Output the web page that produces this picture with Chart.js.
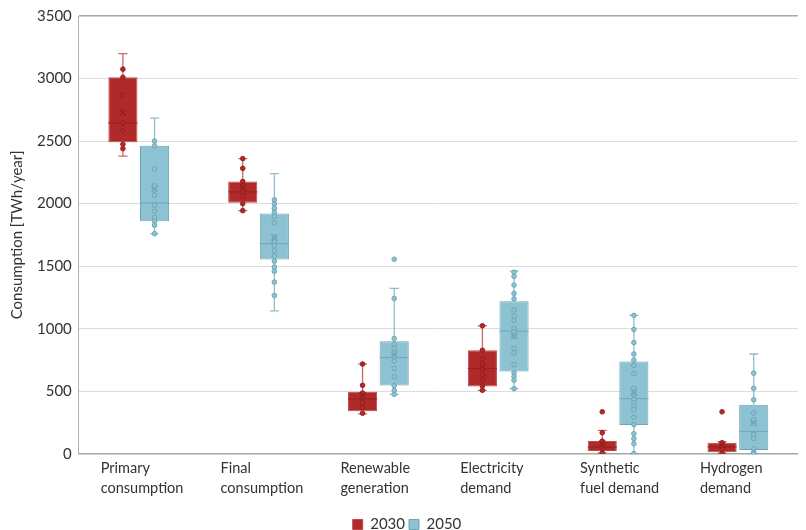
<!DOCTYPE html>
<html>
<head>
<meta charset="utf-8">
<script src="https://cdn.jsdelivr.net/npm/chart.js@4.4.1/dist/chart.umd.min.js"></script>
<style>
  html, body { margin: 0; padding: 0; background: #fff; }
  #wrap { width: 806px; height: 530px; }
</style>
</head>
<body>
<div id="wrap"><canvas id="boxChart"></canvas></div>
<script>
// categories and box statistics (TWh/year)
const categories = [
  ['Primary', 'consumption'],
  ['Final', 'consumption'],
  ['Renewable', 'generation'],
  ['Electricity', 'demand'],
  ['Synthetic', 'fuel demand'],
  ['Hydrogen', 'demand']
];

const min2030    = [2380, 1944, 320, 508, 8, 5];
const q1_2030    = [2490, 2008, 341, 538, 22, 13];
const median2030 = [2645, 2094, 438, 683, 54, 56];
const q3_2030    = [3010, 2177, 497, 828, 102, 89];
const max2030    = [3200, 2360, 718, 1024, 188, 97];
const mean2030   = [2730, 2130, 465, 695, 80, 70];

const min2050    = [1760, 1143, 476, 521, 2, 2];
const q1_2050    = [1860, 1554, 546, 659, 231, 30];
const median2050 = [2006, 1680, 769, 981, 441, 180];
const q3_2050    = [2462, 1922, 901, 1220, 739, 392];
const max2050    = [2683, 2240, 1322, 1460, 1107, 798];
const mean2050   = [2120, 1730, 795, 940, 490, 250];

const points2030 = [
  [3075, 3010, 2865, 2645, 2585, 2475, 2440],
  [2360, 2282, 2177, 2140, 2094, 2059, 2000, 1944],
  [718, 548, 486, 460, 411, 373, 325],
  [1024, 828, 758, 718, 683, 637, 597, 543, 508],
  [336, 169, 102, 73, 46, 8],
  [336, 89, 62, 35, 5]
];
const points2050 = [
  [2500, 2462, 2277, 2143, 2110, 2067, 1986, 1938, 1890, 1860, 1828, 1760],
  [2030, 1997, 1962, 1930, 1898, 1847, 1734, 1694, 1664, 1623, 1581, 1540, 1494, 1460, 1373, 1266],
  [1556, 1242, 922, 877, 841, 806, 780, 742, 683, 616, 546, 508, 476],
  [1452, 1419, 1349, 1282, 1239, 1150, 1102, 1067, 1002, 973, 943, 841, 806, 712, 648, 618, 589, 521],
  [1107, 995, 890, 798, 750, 707, 643, 524, 478, 435, 406, 382, 352, 293, 234, 161, 121, 81, 2],
  [645, 524, 432, 325, 272, 244, 156, 124, 40, 13, 2]
];

const RED = '#b02a2a', RED_LINE = '#962020', RED_WHISK = 'rgba(176,42,42,0.7)';
const BLUE = '#8cc2d2', BLUE_LINE = '#6fa5b6', BLUE_WHISK = 'rgba(111,165,182,0.75)';

const shift = 0.132; // box centre offset from the category centre, in category units

function toBoxes(q1, q3, dx) {
  return q1.map((q, i) => ({ x: i + dx, y: [q, q3[i]] }));
}
function toPoints(lists, dx) {
  return lists.flatMap((vals, i) => vals.map(v => ({ x: i + dx, y: v })));
}
function toMeans(vals, dx) {
  return vals.map((v, i) => ({ x: i + dx, y: v }));
}

// whiskers and median lines, drawn right after each box dataset
const boxExtras = {
  id: 'boxExtras',
  afterDatasetDraw(chart, args) {
    const ds = chart.data.datasets[args.index];
    if (!ds.stats) return;
    const y = chart.scales.y;
    const ctx = chart.ctx;
    const s = ds.stats;
    ctx.save();
    args.meta.data.forEach((bar, i) => {
      const x = bar.x, half = bar.width / 2;
      const yMin = y.getPixelForValue(s.min[i]);
      const yMax = y.getPixelForValue(s.max[i]);
      const yQ1 = y.getPixelForValue(s.q1[i]);
      const yQ3 = y.getPixelForValue(s.q3[i]);
      ctx.strokeStyle = s.whisker;
      ctx.lineWidth = 1.3;
      ctx.beginPath();
      ctx.moveTo(x, yQ3); ctx.lineTo(x, yMax);
      ctx.moveTo(x - 4.5, yMax); ctx.lineTo(x + 4.5, yMax);
      ctx.moveTo(x, yQ1); ctx.lineTo(x, yMin);
      ctx.moveTo(x - 4.5, yMin); ctx.lineTo(x + 4.5, yMin);
      ctx.stroke();
      const yMed = y.getPixelForValue(s.median[i]);
      ctx.strokeStyle = s.medianColor;
      ctx.lineWidth = 1;
      ctx.beginPath();
      ctx.moveTo(x - half, yMed); ctx.lineTo(x + half, yMed);
      ctx.stroke();
    });
    ctx.restore();
  }
};

new Chart(document.getElementById('boxChart'), {
  type: 'bar',
  data: {
    datasets: [
      {
        label: '2030',
        data: toBoxes(q1_2030, q3_2030, -shift),
        backgroundColor: RED,
        borderColor: '#c04848',
        borderWidth: 1,
        borderSkipped: false,
        grouped: false,
        categoryPercentage: 1,
        barPercentage: 0.92,
        order: 3,
        stats: { min: min2030, q1: q1_2030, median: median2030, q3: q3_2030, max: max2030,
                 whisker: RED_WHISK, medianColor: RED_LINE }
      },
      {
        label: '2050',
        data: toBoxes(q1_2050, q3_2050, shift),
        backgroundColor: BLUE,
        borderColor: BLUE_LINE,
        borderWidth: 1,
        borderSkipped: false,
        grouped: false,
        categoryPercentage: 1,
        barPercentage: 0.92,
        order: 3,
        stats: { min: min2050, q1: q1_2050, median: median2050, q3: q3_2050, max: max2050,
                 whisker: BLUE_WHISK, medianColor: BLUE_LINE }
      },
      {
        type: 'scatter',
        label: 'pts2030',
        data: toPoints(points2030, -shift),
        pointRadius: 2.3,
        pointBackgroundColor: RED,
        pointBorderColor: RED_LINE,
        pointBorderWidth: 1,
        order: 1
      },
      {
        type: 'scatter',
        label: 'pts2050',
        data: toPoints(points2050, shift),
        pointRadius: 2.3,
        pointBackgroundColor: BLUE,
        pointBorderColor: BLUE_LINE,
        pointBorderWidth: 1,
        order: 1
      },
      {
        type: 'scatter',
        label: 'mean2030',
        data: toMeans(mean2030, -shift),
        pointStyle: 'crossRot',
        pointRadius: 4.5,
        pointBorderColor: RED_LINE,
        pointBorderWidth: 1.2,
        order: 0
      },
      {
        type: 'scatter',
        label: 'mean2050',
        data: toMeans(mean2050, shift),
        pointStyle: 'crossRot',
        pointRadius: 4.5,
        pointBorderColor: BLUE_LINE,
        pointBorderWidth: 1.2,
        order: 0
      }
    ]
  },
  options: {
    responsive: true,
    maintainAspectRatio: false,
    animation: false,
    layout: { padding: { top: 8, right: -4, left: 4, bottom: -12 } },
    plugins: {
      tooltip: { enabled: false },
      legend: {
        position: 'bottom',
        title: { display: true, text: ' ', font: { size: 2, lineHeight: 1 }, padding: { top: 4, bottom: 4 } },
        labels: {
          filter: item => item.text === '2030' || item.text === '2050',
          boxWidth: 10,
          boxHeight: 10,
          padding: 4,
          color: '#333',
          font: { family: 'Lato', size: 15 }
        }
      }
    },
    scales: {
      x: {
        type: 'linear',
        min: -0.5,
        max: 5.5,
        offset: false,
        afterBuildTicks: axis => { axis.ticks = categories.map((c, i) => ({ value: i })); },
        grid: { display: false, drawTicks: false, offset: false },
        border: { color: '#a6a6a6', width: 1.5 },
        ticks: {
          align: 'start',
          labelOffset: -38,
          padding: 5,
          color: '#333',
          font: { family: 'Lato', size: 14.5, lineHeight: 1.35 },
          callback: v => categories[v]
        }
      },
      y: {
        min: 0,
        max: 3500,
        ticks: {
          stepSize: 500,
          padding: 7,
          color: '#333',
          font: { family: 'Lato', size: 15 },
          callback: v => String(v)
        },
        grid: {
          drawTicks: false,
          color: ctx => ctx.tick.value === 3500 ? '#a6a6a6' : '#dcdcdc',
          lineWidth: ctx => ctx.tick.value === 3500 ? 1.5 : 1
        },
        border: { color: '#b0b0b0' },
        title: {
          display: true,
          text: 'Consumption [TWh/year]',
          color: '#333',
          padding: { bottom: 4 },
          font: { family: 'Lato', size: 15 }
        }
      }
    }
  },
  plugins: [boxExtras]
});
</script>
</body>
</html>
